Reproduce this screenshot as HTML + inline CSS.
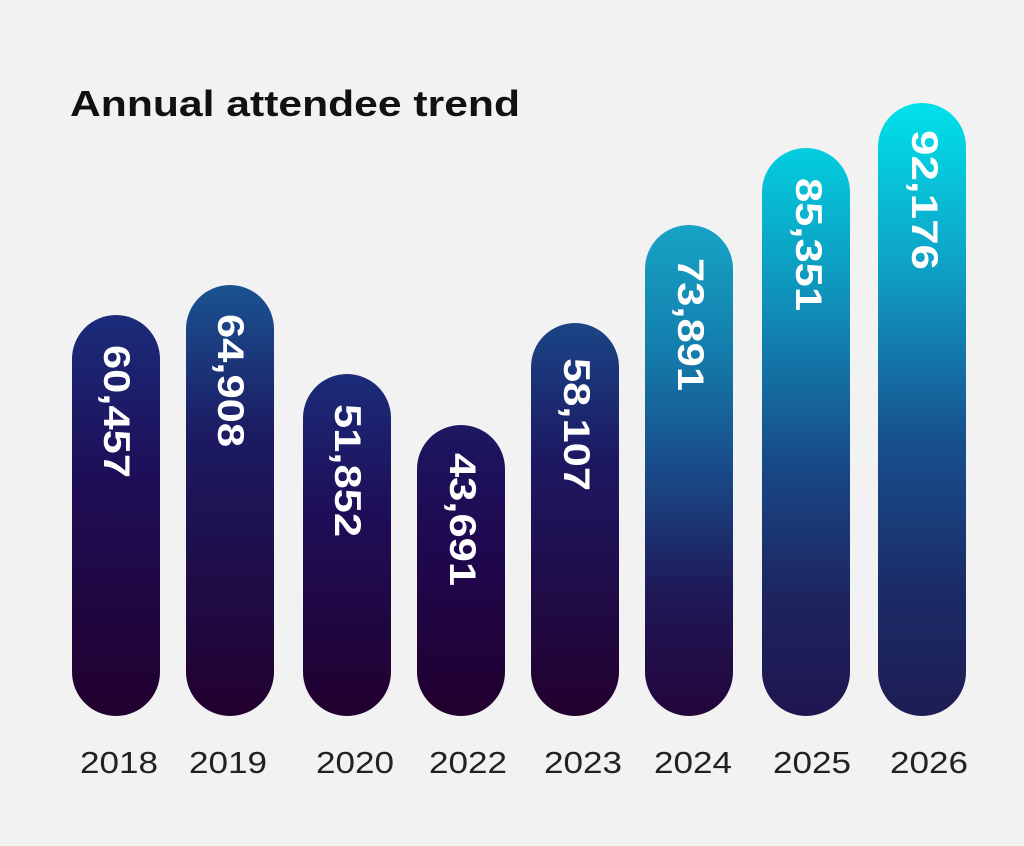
<!DOCTYPE html>
<html><head><meta charset="utf-8"><style>
html,body{margin:0;padding:0;background:#f2f2f2;}
svg{display:block;}
</style></head><body>
<svg width="1024" height="846" viewBox="0 0 1024 846" xmlns="http://www.w3.org/2000/svg">
<defs>
<linearGradient id="a" x1="0" y1="0" x2="0" y2="1"><stop offset="0" stop-color="#1b2c7a"/><stop offset="0.4" stop-color="#1e0e58"/><stop offset="1" stop-color="#22002e"/></linearGradient>
<linearGradient id="b" x1="0" y1="0" x2="0" y2="1"><stop offset="0" stop-color="#1a5391"/><stop offset="0.35" stop-color="#1c1a62"/><stop offset="1" stop-color="#22002e"/></linearGradient>
<linearGradient id="c" x1="0" y1="0" x2="0" y2="1"><stop offset="0" stop-color="#1b2c7a"/><stop offset="0.4" stop-color="#1e0e58"/><stop offset="1" stop-color="#22002e"/></linearGradient>
<linearGradient id="d" x1="0" y1="0" x2="0" y2="1"><stop offset="0" stop-color="#1c1862"/><stop offset="0.4" stop-color="#1f0850"/><stop offset="1" stop-color="#22002e"/></linearGradient>
<linearGradient id="e" x1="0" y1="0" x2="0" y2="1"><stop offset="0" stop-color="#1a4586"/><stop offset="0.35" stop-color="#1d1862"/><stop offset="1" stop-color="#22002e"/></linearGradient>
<linearGradient id="f" x1="0" y1="0" x2="0" y2="1"><stop offset="0" stop-color="#17a4c6"/><stop offset="0.25" stop-color="#137ead"/><stop offset="0.5" stop-color="#194a88"/><stop offset="0.75" stop-color="#1f1858"/><stop offset="1" stop-color="#23053a"/></linearGradient>
<linearGradient id="g" x1="0" y1="0" x2="0" y2="1"><stop offset="0" stop-color="#03cedf"/><stop offset="0.3" stop-color="#1189b5"/><stop offset="0.55" stop-color="#184a88"/><stop offset="0.8" stop-color="#1d235e"/><stop offset="1" stop-color="#1f1650"/></linearGradient>
<linearGradient id="h" x1="0" y1="0" x2="0" y2="1"><stop offset="0" stop-color="#00e1eb"/><stop offset="0.25" stop-color="#0ea5c8"/><stop offset="0.55" stop-color="#17508e"/><stop offset="0.8" stop-color="#1b2a66"/><stop offset="1" stop-color="#1e1d55"/></linearGradient>
</defs>
<rect width="1024" height="846" fill="#f2f2f2"/>
<text x="70" y="116" font-family="Liberation Sans, sans-serif" font-weight="bold" font-size="36" fill="#111" textLength="450" lengthAdjust="spacingAndGlyphs">Annual attendee trend</text>
<rect x="72" y="315" width="88" height="401" rx="44" fill="url(#a)"/>
<rect x="186" y="285" width="88" height="431" rx="44" fill="url(#b)"/>
<rect x="303" y="374" width="88" height="342" rx="44" fill="url(#c)"/>
<rect x="417" y="425" width="88" height="291" rx="44" fill="url(#d)"/>
<rect x="531" y="323" width="88" height="393" rx="44" fill="url(#e)"/>
<rect x="645" y="225" width="88" height="491" rx="44" fill="url(#f)"/>
<rect x="762" y="148" width="88" height="568" rx="44" fill="url(#g)"/>
<rect x="878" y="103" width="88" height="613" rx="44" fill="url(#h)"/>
<g font-family="Liberation Sans, sans-serif" font-weight="bold" font-size="37" fill="#fff" dominant-baseline="middle">
<text transform="translate(114,345) rotate(90)" textLength="133" lengthAdjust="spacingAndGlyphs">60,457</text>
<text transform="translate(228,314) rotate(90)" textLength="133" lengthAdjust="spacingAndGlyphs">64,908</text>
<text transform="translate(345,404) rotate(90)" textLength="133" lengthAdjust="spacingAndGlyphs">51,852</text>
<text transform="translate(460,453) rotate(90)" textLength="133" lengthAdjust="spacingAndGlyphs">43,691</text>
<text transform="translate(574,358) rotate(90)" textLength="133" lengthAdjust="spacingAndGlyphs">58,107</text>
<text transform="translate(688,258) rotate(90)" textLength="133" lengthAdjust="spacingAndGlyphs">73,891</text>
<text transform="translate(806,178) rotate(90)" textLength="133" lengthAdjust="spacingAndGlyphs">85,351</text>
<text transform="translate(922,130) rotate(90)" textLength="140" lengthAdjust="spacingAndGlyphs">92,176</text>
</g>
<g font-family="Liberation Sans, sans-serif" font-size="31" fill="#222" text-anchor="middle">
<text x="119" y="773" textLength="78" lengthAdjust="spacingAndGlyphs">2018</text>
<text x="228" y="773" textLength="78" lengthAdjust="spacingAndGlyphs">2019</text>
<text x="355" y="773" textLength="78" lengthAdjust="spacingAndGlyphs">2020</text>
<text x="468" y="773" textLength="78" lengthAdjust="spacingAndGlyphs">2022</text>
<text x="583" y="773" textLength="78" lengthAdjust="spacingAndGlyphs">2023</text>
<text x="693" y="773" textLength="78" lengthAdjust="spacingAndGlyphs">2024</text>
<text x="812" y="773" textLength="78" lengthAdjust="spacingAndGlyphs">2025</text>
<text x="929" y="773" textLength="78" lengthAdjust="spacingAndGlyphs">2026</text>
</g>
</svg>
</body></html>
